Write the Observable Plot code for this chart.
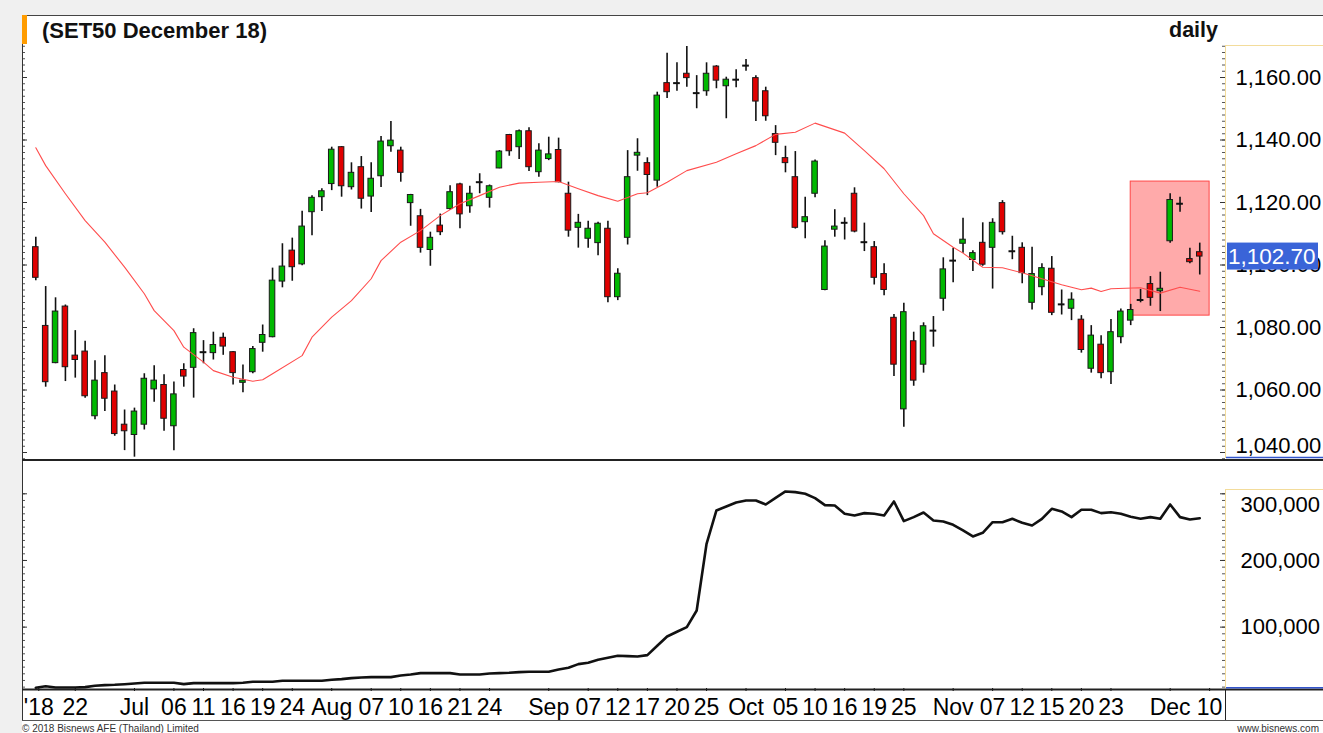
<!DOCTYPE html>
<html><head><meta charset="utf-8">
<script src="https://cdn.jsdelivr.net/npm/d3@7"></script>
<script src="https://cdn.jsdelivr.net/npm/@observablehq/plot@0.6"></script>
<style>
html,body{margin:0;padding:0;background:#f0f0f0;}
#wrap{position:relative;width:1323px;height:733px;overflow:hidden;background:#f0f0f0;}
</style></head><body><div id="wrap"></div>
<script>
// ---- data (candle index 0..118, daily) ----
const open  = [1105.7,1080.5,1068.6,1086.7,1071.0,1072.3,1051.6,1065.4,1059.5,1048.9,1045.6,1048.9,1060.2,1061.6,1048.4,1066.4,1067.1,1072.1,1071.8,1076.7,1072.1,1062.3,1065.7,1075.1,1076.9,1094.7,1104.6,1100.2,1116.9,1121.7,1125.9,1137.7,1124.9,1131.3,1121.9,1128.4,1138.0,1136.6,1119.8,1115.6,1104.8,1112.6,1117.9,1125.8,1118.8,1126.5,1121.5,1130.9,1141.6,1137.7,1142.8,1129.7,1133.9,1136.8,1122.8,1111.9,1108.4,1107.0,1111.6,1089.7,1108.7,1135.0,1132.6,1127.0,1158.2,1158.2,1161.2,1155.0,1155.6,1163.5,1157.2,1159.3,1163.8,1159.8,1155.6,1141.9,1134.2,1128.1,1113.7,1122.8,1092.0,1111.3,1113.5,1122.8,1107.3,1105.7,1097.1,1083.1,1053.8,1075.6,1068.1,1079.0,1089.2,1101.4,1106.8,1101.6,1107.1,1105.5,1119.8,1104.4,1105.5,1087.9,1092.9,1098.8,1087.4,1086.0,1082.5,1066.8,1074.5,1065.7,1076.9,1082.2,1088.8,1093.9,1091.6,1107.6,1119.6,1101.9,1104.1];
const high  = [1108.9,1093.1,1089.5,1087.2,1079.0,1075.6,1069.4,1071.0,1061.6,1053.6,1054.2,1065.2,1067.8,1064.9,1062.6,1068.4,1079.6,1075.8,1078.5,1078.2,1072.3,1068.0,1073.9,1080.8,1099.0,1106.8,1108.6,1117.2,1122.2,1124.4,1137.7,1137.9,1132.7,1134.7,1132.7,1141.1,1145.9,1137.7,1122.6,1117.8,1110.5,1116.3,1125.4,1126.2,1125.2,1129.2,1125.6,1136.6,1141.8,1143.2,1143.9,1138.8,1140.9,1140.6,1126.5,1116.2,1114.0,1113.7,1114.0,1098.8,1136.6,1140.4,1134.3,1155.3,1167.8,1164.7,1169.9,1160.6,1164.7,1163.8,1160.1,1162.5,1165.8,1160.6,1156.9,1144.6,1138.0,1136.3,1121.7,1133.6,1107.8,1117.7,1115.1,1124.7,1113.4,1107.5,1100.4,1084.2,1087.8,1078.5,1081.5,1083.5,1102.3,1105.4,1115.0,1104.6,1113.5,1114.8,1120.6,1109.2,1107.1,1105.7,1100.4,1102.7,1092.0,1091.1,1083.8,1080.6,1077.4,1082.6,1085.9,1087.4,1092.2,1096.3,1097.7,1122.8,1121.7,1105.4,1107.0];
const low   = [1095.0,1060.9,1068.4,1062.7,1063.8,1057.4,1050.5,1053.1,1045.2,1040.6,1038.5,1047.2,1056.1,1046.8,1040.6,1060.9,1057.4,1068.4,1069.6,1071.1,1061.6,1059.1,1065.2,1072.1,1076.7,1092.7,1094.8,1099.8,1109.4,1117.1,1123.8,1121.7,1124.0,1117.9,1116.8,1124.8,1136.1,1126.5,1112.4,1103.8,1099.6,1109.4,1117.5,1111.6,1116.6,1122.8,1118.2,1130.8,1134.8,1133.8,1129.9,1128.1,1133.4,1126.3,1108.9,1105.4,1105.4,1103.0,1087.9,1088.6,1106.4,1130.0,1122.2,1124.9,1153.3,1155.6,1156.9,1150.0,1154.0,1156.4,1146.8,1156.7,1162.0,1145.9,1146.0,1135.0,1129.5,1111.5,1108.4,1121.5,1091.8,1108.9,1108.0,1110.3,1104.3,1093.6,1090.2,1064.3,1048.1,1061.2,1065.4,1073.7,1085.2,1094.3,1103.8,1097.9,1099.6,1092.3,1109.6,1101.7,1094.0,1085.6,1090.2,1083.8,1084.0,1082.2,1071.8,1065.4,1063.6,1061.8,1074.8,1080.6,1087.9,1086.8,1085.1,1107.0,1116.9,1100.4,1096.8];
const close = [1095.9,1062.5,1085.1,1067.3,1069.6,1058.0,1063.0,1057.2,1045.9,1046.8,1053.1,1063.6,1063.0,1050.8,1058.6,1064.3,1078.2,1072.1,1074.4,1073.9,1065.4,1063.0,1073.1,1077.6,1095.0,1099.5,1099.3,1112.3,1121.5,1123.6,1136.9,1125.2,1129.5,1121.2,1127.6,1139.5,1139.8,1129.5,1122.4,1105.5,1108.7,1110.5,1123.3,1116.2,1122.8,1126.5,1125.2,1136.3,1136.4,1142.8,1131.3,1136.6,1135.4,1126.5,1111.0,1113.5,1111.6,1113.2,1089.7,1097.2,1128.1,1135.9,1128.8,1154.2,1155.3,1158.2,1159.8,1155.0,1161.2,1159.0,1159.3,1159.3,1163.8,1152.3,1147.6,1139.1,1132.6,1111.9,1115.3,1133.1,1105.9,1112.3,1113.5,1110.7,1107.3,1095.9,1092.0,1068.1,1084.9,1063.0,1080.4,1079.0,1098.6,1100.9,1108.1,1103.8,1100.1,1113.5,1110.5,1104.8,1097.4,1097.1,1099.0,1084.7,1087.4,1088.9,1072.8,1077.4,1065.4,1078.5,1085.1,1085.6,1088.8,1089.5,1092.4,1120.8,1119.6,1100.9,1102.7];
// moving average (red line), read at selected candles
const maIdx = [0,1,3,5,7,9,11,12,14,15,17,18,20,22,23,24,27,28,30,32,34,35,37,39,41,43,45,47,49,51,53,55,57,59,61,62,64,66,69,71,73,75,77,79,82,84,86,88,90,91,93,94,96,98,100,102,104,106,107,108,109,112,114,116,118];
const maVal = [1137.5,1131.8,1122.8,1114.2,1107.3,1099.3,1090.8,1085.4,1079.0,1073.7,1068.9,1066.2,1064.1,1062.8,1063.3,1065.2,1071.0,1076.9,1083.3,1088.6,1095.6,1101.4,1107.3,1111.0,1115.8,1119.6,1122.2,1124.9,1126.2,1126.5,1126.7,1124.4,1122.2,1120.4,1122.8,1123.1,1126.5,1130.2,1132.9,1135.6,1138.2,1141.8,1142.5,1145.4,1142.2,1136.6,1130.8,1122.8,1115.8,1110.0,1105.7,1103.8,1099.3,1099.1,1097.5,1095.6,1093.7,1092.1,1092.6,1091.5,1092.4,1092.7,1091.0,1092.9,1091.6];
// lower panel series (thousands), one per candle
const volK = [9,11.4,9.5,9.5,9.5,10,12,13,13.5,14.4,15.5,16.5,16.5,16.5,16.5,14.5,16,16,16,16,16,16.5,18,18,18,19.5,19.5,19.5,19.5,19.5,21,22,23.5,24.5,25,25,25,27.5,29,31,31,31,31,29,29,29,30.5,31,31.5,32.5,33,33,33,36.5,39,44.5,46.5,51,54,57,56.5,56,58,72,86,93,100,125,225,275,281,287,290,290,284,294,303.5,302.5,300,293.5,283,282.5,270,267.5,271,270,267.5,288.5,259,265,272,260,258.5,253.5,245,236,241.5,257.4,257.4,262.5,256.5,252.5,262.5,277.5,273.5,265,276,276,271,272.4,270,265.5,262.5,265,262.5,284,265,261.5,263.4];
// highlighted zone
const zoneIdx = [111, 119];
const zonePrice = [1083.8, 1126.7];
// axes
const priceTicks = [1040,1060,1080,1100,1120,1140,1160];
const volTicks = [100000,200000,300000];
const xTickIdx = [0.3,4,10,14,17,20,23,26,30,34,37,40,43,46,52,56,59,62,65,68,72,76,79,82,85,88,93,97,100,103,106,109,115,119];
const xTickLab = ["'18","22","Jul","06","11","16","19","24","Aug","07","10","16","21","24","Sep","07","12","17","20","25","Oct","05","10","16","19","25","Nov","07","12","15","20","23","Dec","10"];
const lastClose = close[close.length-1];

// ---- build ----
const FONT = "'Liberation Sans', Arial, Helvetica, sans-serif";
const W = 1323, H = 733;
const candles = open.map((o,i)=>({i, open:o, high:high[i], low:low[i], close:close[i]}));
const ups = candles.filter(d => d.close - d.open >= 0.6);
const downs = candles.filter(d => d.open - d.close >= 0.6);
const dojis = candles.filter(d => Math.abs(d.close - d.open) < 0.6);
const ma = maIdx.map((i,k)=>({i, v: maVal[k]}));
const vol = volK.map((v,i)=>({i, v: v*1000}));
const zone = [{x1: zoneIdx[0], x2: zoneIdx[1], y1: zonePrice[0], y2: zonePrice[1]}];
const xDomain = [-1.35, 120.61];
const innerW = W - 22 - 98;
const fmtP = d3.format(",.2f"), fmtV = d3.format(",");
const labMap = new Map(xTickIdx.map((v,k)=>[v, xTickLab[k]]));
const svgStyle = {background:"transparent", fontFamily: FONT, fontSize:"22px", color:"#000", overflow:"visible", maxWidth:"none"};

const pMinor = d3.range(1038, 1171, 2), pMajor = priceTicks;
const topPlot = Plot.plot({
  width: W, height: 445, marginLeft: 22, marginRight: 98, marginTop: 30, marginBottom: 2,
  style: svgStyle,
  x: {domain: xDomain, axis: null},
  y: {domain: [1038.08, 1170.24], axis: null},
  marks: [
    Plot.rect(zone, {x1:"x1", x2:"x2", y1:"y1", y2:"y2", fill:"#ffaaaa", stroke:"#ff4646", strokeWidth:1}),
    Plot.ruleX(candles, {x:"i", y1:"low", y2:"high", stroke:"#111", strokeWidth:1.6}),
    Plot.rect(ups, {x1: d=>d.i-0.28, x2: d=>d.i+0.28, y1:"open", y2:"close", fill:"#00b800", stroke:"#1a1a1a", strokeWidth:1}),
    Plot.rect(downs, {x1: d=>d.i-0.28, x2: d=>d.i+0.28, y1:"open", y2:"close", fill:"#e00000", stroke:"#1a1a1a", strokeWidth:1}),
    Plot.ruleY(dojis, {x1: d=>d.i-0.34, x2: d=>d.i+0.34, y:"open", stroke:"#111", strokeWidth:2}),
    Plot.line(ma, {x:"i", y:"v", stroke:"#ff4d4d", strokeWidth:1.1}),
    Plot.tickY(pMinor, {y: d=>d, insetRight: innerW-3, stroke:"#555"}),
    Plot.tickY(pMajor, {y: d=>d, insetRight: innerW-5, stroke:"#333"}),
    Plot.tickY(pMinor, {y: d=>d, insetLeft: innerW-3, stroke:"#555"}),
    Plot.tickY(pMajor, {y: d=>d, insetLeft: innerW-5, stroke:"#333"}),
    Plot.axisY({anchor:"right", ticks: priceTicks.filter(v=>v!==1040), tickSize:0, tickPadding:10, tickFormat: fmtP, label: null}),
    Plot.text([1040], {y: d=>d, text: d=>fmtP(d), frameAnchor:"right", textAnchor:"start", dx:10, dy:-7, fill:"#000"})
  ]
});

const vMinor = d3.range(10000, 300001, 10000);
const volPlot = Plot.plot({
  width: W, height: 260, marginLeft: 22, marginRight: 98, marginTop: 1, marginBottom: 32,
  style: svgStyle,
  x: {domain: xDomain, axis: null},
  y: {domain: [7950, 348450], axis: null},
  marks: [
    Plot.line(vol, {x:"i", y:"v", stroke:"#111", strokeWidth:2.6, strokeLinejoin:"round"}),
    Plot.tickY(vMinor, {y: d=>d, insetRight: innerW-3, stroke:"#555"}),
    Plot.tickY(volTicks, {y: d=>d, insetRight: innerW-5, stroke:"#333"}),
    Plot.tickY(vMinor, {y: d=>d, insetLeft: innerW-3, stroke:"#555"}),
    Plot.tickY(volTicks, {y: d=>d, insetLeft: innerW-5, stroke:"#333"}),
    Plot.axisY({anchor:"right", ticks: [100000,200000], tickSize:0, tickPadding:15, tickFormat: fmtV, label: null}),
    Plot.text([300000], {y: d=>d, text: d=>fmtV(d), frameAnchor:"right", textAnchor:"start", dx:15, dy:11, fill:"#000"}),
    Plot.axisX({anchor:"bottom", ticks: xTickIdx, tickFormat: d=>labMap.get(d), tickSize:3, tickPadding:7, fontSize:23, label: null})
  ]
});

const wrap = d3.select("#wrap");
const base = wrap.append("svg").attr("width",W).attr("height",H).style("position","absolute").style("left","0px").style("top","0px");
base.append("rect").attr("width",W).attr("height",H).attr("fill","#f0f0f0");
base.append("rect").attr("x",22).attr("y",15).attr("width",W-22).attr("height",H-15).attr("fill","#fff");

const d1 = wrap.append("div").style("position","absolute").style("left","0px").style("top","15px").style("width",W+"px");
d1.node().appendChild(topPlot);
const d2 = wrap.append("div").style("position","absolute").style("left","0px").style("top","460px").style("width",W+"px");
d2.node().appendChild(volPlot);

const ov = wrap.append("svg").attr("width",W).attr("height",H).style("position","absolute").style("left","0px").style("top","0px").style("font-family",FONT);
function ln(x1,y1,x2,y2,c,w){ov.append("line").attr("x1",x1).attr("y1",y1).attr("x2",x2).attr("y2",y2).attr("stroke",c).attr("stroke-width",w||1);}
ln(22,15.5,W,15.5,"#444");
ln(22.5,15,22.5,720,"#333");
ov.append("rect").attr("x",22).attr("y",15).attr("width",5).attr("height",29).attr("fill","#ff9c00");
// price axis box
ln(1225.5,45,1225.5,458,"#f3dc9b");
ln(1225,45.5,W,45.5,"#f3dc9b");
ln(1226,457.5,W,457.5,"#3355cc",1.5);
ln(22,460,W,460,"#222",2);
// volume axis box
ln(1225.5,489,1225.5,688,"#f3dc9b");
ln(1225,489.5,W,489.5,"#f3dc9b");
ln(22,689.5,W,689.5,"#222",2);
ln(1226,687.8,W,687.8,"#3355cc",1.5);
// x axis strip
ln(1225.5,690,1225.5,720,"#222");
ln(22,720.5,W,720.5,"#555");
// titles
ov.append("text").attr("x",42).attr("y",37.5).attr("font-size",22).attr("font-weight","bold").attr("fill","#111").text("(SET50 December 18)");
ov.append("text").attr("x",1218).attr("y",36.5).attr("text-anchor","end").attr("font-size",21.5).attr("font-weight","bold").attr("fill","#111").text("daily");
// last price label
const yLast = 15 + topPlot.scale("y").apply(lastClose);
ov.append("rect").attr("x",1227).attr("y",yLast-13.5).attr("width",91).attr("height",27).attr("fill","#3a64d8");
ov.append("text").attr("x",1228).attr("y",yLast+8).attr("font-size",22.5).attr("fill","#fff").text(fmtP(lastClose));
// captions
ov.append("text").attr("x",22).attr("y",731.5).attr("font-size",10).attr("fill","#333").text("© 2018 Bisnews AFE (Thailand) Limited");
ov.append("text").attr("x",1319).attr("y",731.5).attr("text-anchor","end").attr("font-size",10).attr("fill","#333").text("www.bisnews.com");
</script></body></html>
